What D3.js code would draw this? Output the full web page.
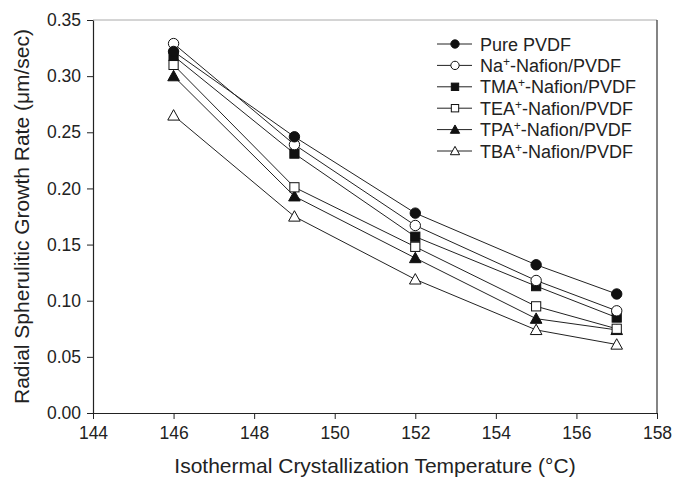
<!DOCTYPE html>
<html>
<head>
<meta charset="utf-8">
<script src="https://cdn.jsdelivr.net/npm/d3@7"></script>
<style>
  body { margin: 0; background: #fff; }
  text { font-family: "Liberation Sans", Arial, sans-serif; fill: #222; }
</style>
</head>
<body>
<div id="chart"></div>
<script>
//// data
var temps = [146, 149, 152, 155, 157];
var pure = [0.322, 0.246, 0.178, 0.132, 0.106];
var na   = [0.329, 0.239, 0.167, 0.118, 0.091];
var tma  = [0.318, 0.231, 0.157, 0.113, 0.085];
var tea  = [0.310, 0.201, 0.148, 0.095, 0.075];
var tpa  = [0.300, 0.193, 0.138, 0.084, 0.074];
var tba  = [0.265, 0.175, 0.119, 0.074, 0.061];
var xTicks = [144, 146, 148, 150, 152, 154, 156, 158];
var yTicks = [0, 0.05, 0.10, 0.15, 0.20, 0.25, 0.30, 0.35];

var series = [
  {name: "Pure PVDF", ion: null, values: pure, shape: "circle", fill: "#111"},
  {name: "-Nafion/PVDF", ion: "Na", values: na, shape: "circle", fill: "#fff"},
  {name: "-Nafion/PVDF", ion: "TMA", values: tma, shape: "square", fill: "#111"},
  {name: "-Nafion/PVDF", ion: "TEA", values: tea, shape: "square", fill: "#fff"},
  {name: "-Nafion/PVDF", ion: "TPA", values: tpa, shape: "triangle", fill: "#111"},
  {name: "-Nafion/PVDF", ion: "TBA", values: tba, shape: "triangle", fill: "#fff"}
];

//// chart
var width = 673, height = 477;
var margin = {top: 20, right: 16, bottom: 64, left: 93};
var innerW = width - margin.left - margin.right,
    innerH = height - margin.top - margin.bottom;

var svg = d3.select("#chart").append("svg")
    .attr("width", width)
    .attr("height", height);

var g = svg.append("g")
    .attr("transform", "translate(" + margin.left + "," + margin.top + ")");

var xScale = d3.scaleLinear().domain([144, 158]).range([0, innerW]);
var yScale = d3.scaleLinear().domain([0, 0.35]).range([innerH, 0]);

// frame
g.append("line").attr("x1", 0).attr("x2", innerW).attr("y1", 0).attr("y2", 0)
  .attr("stroke", "#aaa").attr("stroke-width", 1);
g.append("line").attr("x1", innerW).attr("x2", innerW).attr("y1", 0).attr("y2", innerH)
  .attr("stroke", "#333").attr("stroke-width", 1.2);

// axes
var xAxis = g.append("g")
  .attr("transform", "translate(0," + innerH + ")")
  .call(d3.axisBottom(xScale).tickValues(xTicks).tickFormat(d3.format("d"))
    .tickSize(6).tickSizeOuter(0).tickPadding(8));
var yAxis = g.append("g")
  .call(d3.axisLeft(yScale).tickValues(yTicks).tickFormat(d3.format(".2f"))
    .tickSize(6).tickSizeOuter(0).tickPadding(6));

[xAxis, yAxis].forEach(function(a) {
  a.selectAll("path").attr("stroke", "#222").attr("stroke-width", 1.2);
  a.selectAll("line").attr("stroke", "#222").attr("stroke-width", 1);
  a.selectAll("text").attr("font-size", "17.5px")
    .attr("font-family", "'Liberation Sans', Arial, sans-serif").attr("fill", "#222");
});

// titles
svg.append("text")
  .attr("x", margin.left + innerW / 2)
  .attr("y", 473)
  .attr("text-anchor", "middle")
  .attr("font-size", "21px")
  .text("Isothermal Crystallization Temperature (\u00B0C)");

svg.append("text")
  .attr("transform", "translate(29," + (margin.top + innerH / 2) + ") rotate(-90)")
  .attr("text-anchor", "middle")
  .attr("font-size", "21px")
  .text("Radial Spherulitic Growth Rate (\u03BCm/sec)");

//// markers
function drawMarker(sel, shape, fill, cx, cy, k) {
  if (shape === "circle") {
    sel.append("circle").attr("cx", cx).attr("cy", cy).attr("r", 5.2 * k)
      .attr("fill", fill).attr("stroke", "#111").attr("stroke-width", 1);
  } else if (shape === "square") {
    var h = 4.6 * k;
    sel.append("rect").attr("x", cx - h).attr("y", cy - h)
      .attr("width", 2 * h).attr("height", 2 * h)
      .attr("fill", fill).attr("stroke", "#111").attr("stroke-width", 1);
  } else {
    var s = 5.8 * k;
    sel.append("path")
      .attr("d", "M" + cx + "," + (cy - s) + "L" + (cx + s) + "," + (cy + s * 0.8) +
                 "L" + (cx - s) + "," + (cy + s * 0.8) + "Z")
      .attr("fill", fill).attr("stroke", "#111").attr("stroke-width", 1);
  }
}

var line = d3.line()
  .x(function(d, i) { return xScale(temps[i]); })
  .y(function(d) { return yScale(d); });

series.forEach(function(s) {
  g.append("path").datum(s.values)
    .attr("d", line)
    .attr("fill", "none")
    .attr("stroke", "#222")
    .attr("stroke-width", 1);
});

series.slice().reverse().forEach(function(s) {
  var mg = g.append("g");
  s.values.forEach(function(v, i) {
    drawMarker(mg, s.shape, s.fill, xScale(temps[i]), yScale(v), 1);
  });
});

//// legend
var legend = svg.append("g").attr("transform", "translate(437,44)");
series.forEach(function(s, i) {
  var row = legend.append("g").attr("transform", "translate(0," + (i * 21.4) + ")");
  row.append("line").attr("x1", 0).attr("x2", 35).attr("y1", 0).attr("y2", 0)
    .attr("stroke", "#222").attr("stroke-width", 1);
  drawMarker(row, s.shape, s.fill, 18, 0, 0.8);
  var t = row.append("text").attr("x", 43).attr("y", 6.5).attr("font-size", "18px");
  if (s.ion) {
    t.append("tspan").text(s.ion);
    t.append("tspan").attr("dy", -6).attr("font-size", "12px").text("+");
    t.append("tspan").attr("dy", 6).text(s.name);
  } else {
    t.text(s.name);
  }
});
</script>
</body>
</html>
